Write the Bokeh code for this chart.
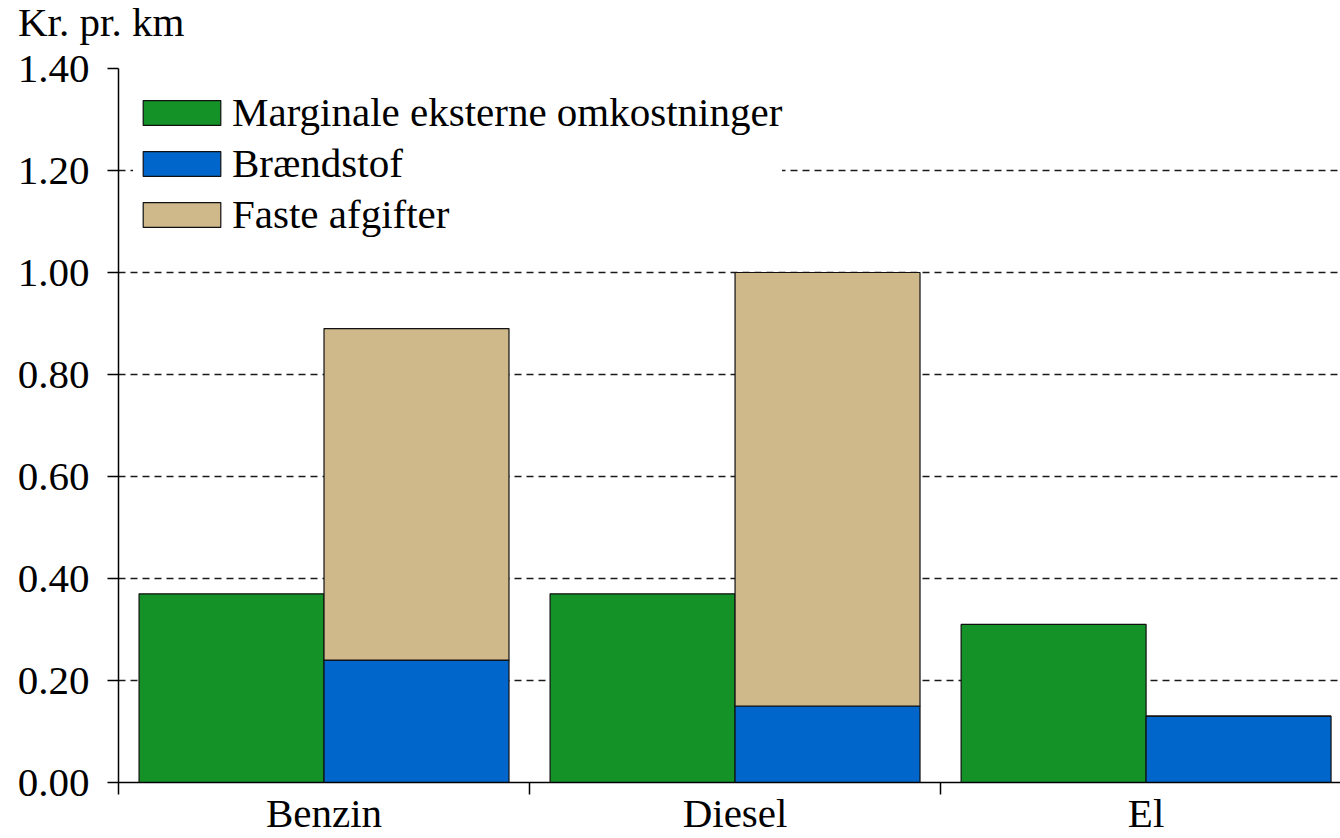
from bokeh.plotting import figure
from bokeh.models import (ColumnDataSource, Range1d, FixedTicker, Legend, LegendItem, Div,
                          CustomJSTickFormatter)
from bokeh.layouts import column
from bokeh.transform import dodge
from bokeh.embed import file_html
from bokeh.resources import INLINE

categories = ["Benzin", "Diesel", "El"]
marginal = [0.37, 0.37, 0.31]
fuel = [0.24, 0.15, 0.13]
fixed = [0.65, 0.85, 0.0]
series_names = ["Marginale eksterne omkostninger", "Brændstof", "Faste afgifter"]
colors = ["#149228", "#0066CC", "#CFB98B"]
y_ticks = [0.0, 0.2, 0.4, 0.6, 0.8, 1.0, 1.2, 1.4]
y_title = "Kr. pr. km"

FONT = "Liberation Serif"
FS = "41px"
TOP_H = 45

xpos = [i + 0.5 for i in range(len(categories))]
src = ColumnDataSource(dict(x=xpos, cat=categories, marginal=marginal, fuel=fuel, fixed=fixed))

head = Div(text=y_title, width=1340, height=TOP_H,
           styles={"font-family": FONT, "font-size": "41px", "line-height": "44px",
                   "color": "black", "padding-left": "18px", "margin": "0",
                   "white-space": "nowrap"})

p = figure(width=1340, height=838 - TOP_H, output_backend="svg", toolbar_location=None,
           x_range=Range1d(0, 2.973), y_range=Range1d(0, 1.4),
           min_border_left=118, min_border_right=0, min_border_top=68 - TOP_H, min_border_bottom=50)
p.outline_line_color = None
p.background_fill_color = "white"

# grid
p.xgrid.visible = False
p.ygrid.grid_line_color = "#1a1a1a"
p.ygrid.grid_line_dash = "7 5"
p.ygrid.grid_line_width = 1.6
p.ygrid.ticker = FixedTicker(ticks=y_ticks)

# bars
r_m = p.vbar(x=dodge("x", -0.225), top="marginal", bottom=0, width=0.45, source=src,
             fill_color=colors[0], line_color="#111111", line_width=1.2)
r_stack = p.vbar_stack(["fuel", "fixed"], x=dodge("x", 0.225), width=0.45, source=src,
                       fill_color=colors[1:], line_color="#111111", line_width=1.2)

legend = Legend(items=[LegendItem(label=series_names[0], renderers=[r_m]),
                       LegendItem(label=series_names[1], renderers=[r_stack[0]]),
                       LegendItem(label=series_names[2], renderers=[r_stack[1]])],
                location=(15, 544), orientation="vertical")
legend.label_text_font = FONT
legend.label_text_font_size = FS
legend.label_text_color = "black"
legend.glyph_width = 97
legend.glyph_height = 31
legend.label_standoff = 2
legend.spacing = 3
legend.padding = 10
legend.margin = 0
legend.border_line_color = None
legend.background_fill_color = "white"
legend.background_fill_alpha = 1.0
p.add_layout(legend)

# y axis
ya = p.yaxis[0]
ya.ticker = FixedTicker(ticks=y_ticks)
ya.formatter = CustomJSTickFormatter(code="return tick.toFixed(2);")
ya.major_label_text_font = FONT
ya.major_label_text_font_size = FS
ya.major_label_text_color = "black"
ya.major_label_standoff = 18
ya.major_tick_out = 11
ya.major_tick_in = 0
ya.minor_tick_out = 0
ya.minor_tick_in = 0
ya.axis_line_color = "black"
ya.axis_line_width = 1.5
ya.major_tick_line_width = 1.5
ya.major_tick_line_color = "black"

# x axis
xa = p.xaxis[0]
xa.ticker = FixedTicker(ticks=xpos, minor_ticks=[0, 1, 2, 3])
xa.major_label_overrides = {x: c for x, c in zip(xpos, categories)}
xa.major_label_text_font = FONT
xa.major_label_text_font_size = FS
xa.major_label_text_color = "black"
xa.major_label_standoff = -5
xa.major_tick_out = 0
xa.major_tick_in = 0
xa.minor_tick_out = 12
xa.minor_tick_in = 0
xa.minor_tick_line_color = "black"
xa.minor_tick_line_width = 1.5
xa.axis_line_color = "black"
xa.axis_line_width = 1.5

layout = column(head, p, spacing=0)
open("out.html", "w").write(file_html(layout, INLINE))
